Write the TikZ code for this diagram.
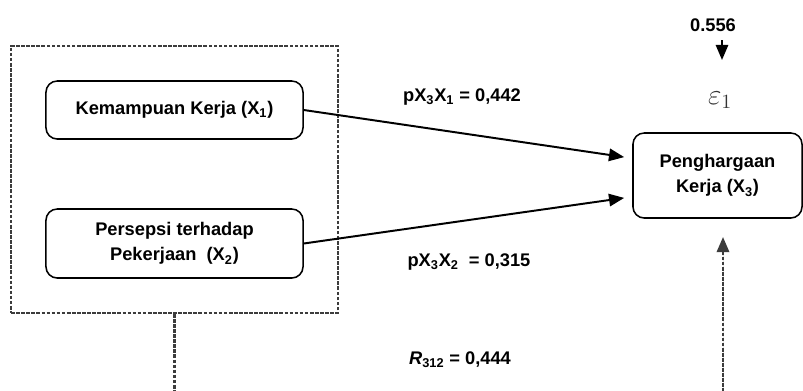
\documentclass[tikz,border=0pt]{standalone}
\usepackage{fontspec}
\setmainfont{Liberation Sans}
\usepackage{amsmath}
\usetikzlibrary{arrows.meta,positioning,fit}
\definecolor{DashGray}{RGB}{60,60,60}

\begin{document}
\begin{tikzpicture}[
  x=0.025cm, y=-0.025cm,
  varbox/.style={
    draw,
    rounded corners=8pt,
    minimum width=6.425cm,
    align=center,
    line width=1.1pt,
    font=\bfseries\fontsize{13}{18}\selectfont
  },
  dashline/.style={draw=DashGray, line width=1.7pt, dash pattern=on 2.6pt off 1pt},
  groupbox/.style={dashline, inner sep=0.85cm},
  effect/.style={-{Triangle[length=3.8mm,width=3.1mm]}, line width=1.4pt},
  deffect/.style={-{Triangle[length=3.8mm,width=3.1mm]}, dashline, fill=DashGray},
  coef/.style={font=\bfseries\fontsize{13}{16}\selectfont, inner sep=1pt}
]
\useasboundingbox (0,0) rectangle (803,390);

% exogenous variables
\node[varbox, minimum height=1.45cm] (kemampuan) at (174.5,110)
  {Kemampuan Kerja (X\textsubscript{1})};
\node[varbox, minimum height=1.725cm] (persepsi) at (174.5,243.5)
  {Persepsi terhadap\\Pekerjaan \ (X\textsubscript{2})};
\node[groupbox, fit=(kemampuan) (persepsi)] (exogen) {};

% endogenous variable
\node[varbox, minimum width=4.225cm, minimum height=2.125cm] (penghargaan) at (717.5,175.5)
  {Penghargaan\\Kerja (X\textsubscript{3})};

% error term
\node[coef] (errval) at (713,25) {0.556};
\node[inner sep=1pt, text=black!80] (eps) at (720,100) {\fontsize{20}{24}\selectfont$\varepsilon_1$};
\draw[effect] (722,40) -- (722,60);

% paths
\draw[effect] (kemampuan.east) -- ([xshift=-0.2cm,yshift=0.46cm]penghargaan.west);
\draw[effect] (persepsi.east) -- ([xshift=-0.2cm,yshift=-0.56cm]penghargaan.west);
\node[coef] (p31) at (462,97) {pX\textsubscript{3}X\textsubscript{1} = 0,442};
\node[coef] (p32) at (469,262) {pX\textsubscript{3}X\textsubscript{2} \ = 0,315};
\node[coef] (r312) at (460,360) {\textit{R}\textsubscript{312} = 0,444};

% joint effect
\coordinate (jointbot) at (exogen.south |- 0,392);
\draw[dashline] (exogen.south) -- (jointbot);
\coordinate (rbot) at (723,392);
\draw[deffect] (rbot) -- (723,237);
\end{tikzpicture}
\end{document}
